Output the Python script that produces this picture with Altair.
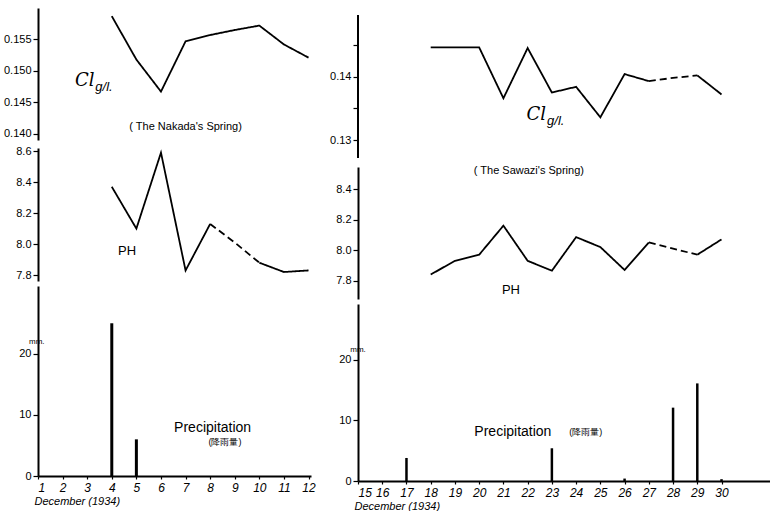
import altair as alt
import pandas as pd

# ---------------- data ----------------
# The Nakada's Spring (1-12 December 1934)
left_days = [4, 5, 6, 7, 8, 9, 10, 11, 12]
left_cl = [0.1587, 0.1518, 0.1467, 0.1547, 0.1557, 0.1565, 0.1572, 0.1542, 0.1521]
left_ph = [8.37, 8.10, 8.59, 7.83, 8.13, 8.01, 7.88, 7.82, 7.83]
left_ph_dashed = (8, 10)
left_rain_days = [4, 5]
left_rain = [25.0, 6.0]
left_ticks = [1, 2, 3, 4, 5, 6, 7, 8, 9, 10, 11, 12]

# The Sawazi's Spring (15-30 December 1934)
right_days = [18, 19, 20, 21, 22, 23, 24, 25, 26, 27, 28, 29, 30]
right_cl = [0.1446, 0.1446, 0.1446, 0.1366, 0.1445, 0.1375, 0.1384, 0.1336,
            0.1404, 0.1393, 0.1398, 0.1402, 0.1372]
right_cl_dashed = (27, 29)
right_ph = [7.84, 7.93, 7.97, 8.16, 7.93, 7.865, 8.085, 8.02, 7.87, 8.05, 8.01, 7.97, 8.07]
right_ph_dashed = (27, 29)
right_rain_days = [17, 23, 26, 28, 29, 30]
right_rain = [3.8, 5.4, 0.4, 12.1, 16.1, 0.3]
right_ticks = [15, 16, 17, 18, 19, 20, 21, 22, 23, 24, 25, 26, 27, 28, 29, 30]

FONT = "Liberation Sans"


def segments(days, vals, dashed):
    a, b = dashed
    rows = []
    for d, v in zip(days, vals):
        if d <= a:
            rows.append({"day": d, "v": v, "seg": "a", "style": "solid"})
        if a <= d <= b:
            rows.append({"day": d, "v": v, "seg": "b", "style": "dashed"})
        if d >= b:
            rows.append({"day": d, "v": v, "seg": "c", "style": "solid"})
    return pd.DataFrame(rows)


def yaxis(values, fmt, label_expr=None, domain=True):
    kw = dict(values=values, format=fmt, title=None, tickSize=5, labelPadding=2,
              minExtent=33, maxExtent=33, domainWidth=2, labelFontSize=11,
              labelOverlap=False, domain=domain)
    if label_expr:
        kw["labelExpr"] = label_expr
    return alt.Axis(**kw)


def xaxis(ticks):
    return alt.Axis(values=ticks, format="d", tickSize=3, labelPadding=3,
                    labelOverlap=False,
                    labelFontStyle="italic", labelFontSize=12, domainWidth=2,
                    title="December (1934)", titleAnchor="start", titleAlign="left",
                    titleX=-4, titleFontStyle="italic", titleFontWeight="normal",
                    titleFontSize=11, titlePadding=2, titleFont=FONT)


def enc_x(field, dom, axis):
    return alt.X(field, scale=alt.Scale(domain=dom, nice=False, zero=False), axis=axis)


def enc_y(field, dom, axis):
    return alt.Y(field, scale=alt.Scale(domain=dom, nice=False, zero=False), axis=axis)


def line_panel(df, xdom, ydom, yax, w, h):
    return alt.Chart(df).mark_line(color="black", strokeWidth=1.8).encode(
        x=enc_x("day:Q", xdom, None),
        y=enc_y("v:Q", ydom, yax),
        detail="seg:N",
        strokeDash=alt.StrokeDash("style:N", legend=None,
                                  scale=alt.Scale(domain=["solid", "dashed"],
                                                  range=[[1, 0], [7, 4]])),
    ).properties(width=w, height=h)


def text_layer(texts, xs, ys, xdom, ydom, xax, yax, **mark):
    mark.setdefault("font", FONT)
    df = pd.DataFrame({"t": texts, "day": xs, "v": ys})
    return alt.Chart(df).mark_text(color="black", **mark).encode(
        x=enc_x("day:Q", xdom, xax),
        y=enc_y("v:Q", ydom, yax),
        text="t:N",
    )


def rain_panel(days, mm, xdom, ydom, xax, yax, w, h, bar_w):
    df = pd.DataFrame({"day": days, "v": mm})
    return alt.Chart(df).mark_rule(color="black", strokeWidth=bar_w).encode(
        x=enc_x("day:Q", xdom, xax),
        y=enc_y("v:Q", ydom, yax),
        y2=alt.datum(0),
    ).properties(width=w, height=h)


# ---------------- left column ----------------
LX = [1, 12.1]
LW = 273
cl_l_dom = [0.139, 0.160]
ph_l_dom = [7.762, 8.62]
pr_l_dom = [0, 31.1]

ax_cl_l = yaxis([0.140, 0.145, 0.150, 0.155], ".3f")
ax_ph_l = yaxis([7.8, 8.0, 8.2, 8.4, 8.6], ".1f")
ax_pr_l = yaxis([0, 10, 20], "d")
ax_x_l = xaxis(left_ticks)

cl_l = alt.layer(
    line_panel(segments(left_days, left_cl, (99, 99)), LX, cl_l_dom, ax_cl_l, LW, 132),
    text_layer(["Cl"], [3.3], [0.1476], LX, cl_l_dom, None, ax_cl_l, fontSize=18,
               fontStyle="italic", align="right", baseline="alphabetic", font="DejaVu Serif"),
    text_layer(["g/l."], [3.33], [0.1468], LX, cl_l_dom, None, ax_cl_l, fontSize=13,
               fontStyle="italic", align="left", baseline="alphabetic"),
    text_layer(["( The Nakada's Spring)"], [7.0], [0.1411], LX, cl_l_dom, None, ax_cl_l,
               fontSize=11, align="center", baseline="middle"),
)

ph_l = alt.layer(
    line_panel(segments(left_days, left_ph, left_ph_dashed), LX, ph_l_dom, ax_ph_l, LW, 133),
    text_layer(["PH"], [4.62], [7.955], LX, ph_l_dom, None, ax_ph_l, fontSize=13,
               align="center", baseline="middle"),
)

pr_l = alt.layer(
    rain_panel(left_rain_days, left_rain, LX, pr_l_dom, ax_x_l, ax_pr_l, LW, 190, 3),
    text_layer(["Precipitation"], [8.1], [7.9], LX, pr_l_dom, ax_x_l, ax_pr_l, fontSize=14,
               align="center", baseline="middle"),
    text_layer(["(降雨量)"], [8.6], [5.6], LX, pr_l_dom, ax_x_l, ax_pr_l, fontSize=9,
               align="center", baseline="middle"),
    text_layer(["mm."], [0.95], [21.3], LX, pr_l_dom, ax_x_l, ax_pr_l, fontSize=8,
               align="center", baseline="bottom"),
)

left_col = alt.vconcat(cl_l, ph_l, pr_l, spacing=5)

# ---------------- right column ----------------
RX = [15, 32]
RW = 412
cl_r_dom = [0.1272, 0.1508]
cl_r_axis_span = pd.DataFrame({"day": [15], "v": [0.1272], "v2": [0.1497]})
ph_r_dom = [7.68, 8.544]
pr_r_dom = [0, 29.2]

ax_cl_r = yaxis([0.130, 0.135, 0.140, 0.145], ".2f",
                "(round(datum.value*1000) % 10 == 0) ? datum.label : ''", domain=False)
ax_ph_r = yaxis([7.8, 8.0, 8.2, 8.4], ".1f")
ax_pr_r = yaxis([0, 10, 20], "d")
ax_x_r = xaxis(right_ticks)

cl_r = alt.layer(
    line_panel(segments(right_days, right_cl, right_cl_dashed), RX, cl_r_dom, ax_cl_r, RW, 150),
    alt.Chart(cl_r_axis_span).mark_rule(color="black", strokeWidth=2).encode(
        x=enc_x("day:Q", RX, None),
        y=enc_y("v:Q", cl_r_dom, ax_cl_r),
        y2="v2:Q",
    ),
    text_layer(["Cl"], [22.76], [0.13318], RX, cl_r_dom, None, ax_cl_r, fontSize=18,
               fontStyle="italic", align="right", baseline="alphabetic", font="DejaVu Serif"),
    text_layer(["g/l."], [22.8], [0.13239], RX, cl_r_dom, None, ax_cl_r, fontSize=13,
               fontStyle="italic", align="left", baseline="alphabetic"),
)

ph_r = alt.layer(
    line_panel(segments(right_days, right_ph, right_ph_dashed), RX, ph_r_dom, ax_ph_r, RW, 132),
    text_layer(["( The Sawazi's Spring)"], [22.05], [8.518], RX, ph_r_dom, None, ax_ph_r,
               fontSize=11, align="center", baseline="middle"),
    text_layer(["PH"], [21.31], [7.74], RX, ph_r_dom, None, ax_ph_r, fontSize=13,
               align="center", baseline="middle"),
)

pr_r = alt.layer(
    rain_panel(right_rain_days, right_rain, RX, pr_r_dom, ax_x_r, ax_pr_r, RW, 177, 2.5),
    text_layer(["Precipitation"], [21.39], [8.1], RX, pr_r_dom, ax_x_r, ax_pr_r, fontSize=14,
               align="center", baseline="middle"),
    text_layer(["(降雨量)"], [24.4], [8.1], RX, pr_r_dom, ax_x_r, ax_pr_r, fontSize=9,
               align="center", baseline="middle"),
    text_layer(["mm."], [15.0], [21.0], RX, pr_r_dom, ax_x_r, ax_pr_r, fontSize=8,
               align="center", baseline="bottom"),
)

right_col = alt.vconcat(cl_r, ph_r, pr_r, spacing=5)

chart = alt.hconcat(left_col, right_col, spacing=9).properties(
    padding={"left": 3, "top": 8, "right": 0, "bottom": 0},
    background="white",
).configure_axis(
    domainColor="black", tickColor="black", labelColor="black", titleColor="black",
    labelFont=FONT, grid=False, tickWidth=1.2, labelOverlap=False,
).configure_view(stroke=None)

chart.save("out.html", embed_options={"renderer": "svg", "actions": False})
